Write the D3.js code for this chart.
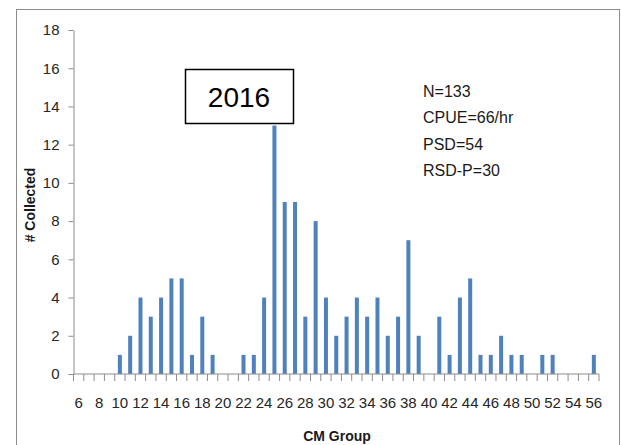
<!DOCTYPE html>
<html>
<head>
<meta charset="utf-8">
<script src="https://cdn.jsdelivr.net/npm/d3@7"></script>
<style>
  body { margin: 0; background: #fff; }
  svg text { font-family: "Liberation Sans Narrow", "Liberation Sans", Arial, sans-serif; }
</style>
</head>
<body>
<div id="chart"></div>
<script>
// CM group length frequency, 2016
const cmGroups = [6, 7, 8, 9, 10, 11, 12, 13, 14, 15, 16, 17, 18, 19, 20, 21, 22, 23, 24, 25, 26,
  27, 28, 29, 30, 31, 32, 33, 34, 35, 36, 37, 38, 39, 40, 41, 42, 43, 44, 45, 46, 47, 48, 49, 50,
  51, 52, 53, 54, 55, 56];
const collected = [0, 0, 0, 0, 1, 2, 4, 3, 4, 5, 5, 1, 3, 1, 0, 0, 1, 1, 4, 13, 9,
  9, 3, 8, 4, 2, 3, 4, 3, 4, 2, 3, 7, 2, 0, 3, 1, 4, 5, 1, 1, 2, 1, 1, 0,
  1, 1, 0, 0, 0, 1];
const xLabels = [6, 8, 10, 12, 14, 16, 18, 20, 22, 24, 26, 28, 30, 32, 34, 36, 38, 40, 42, 44,
  46, 48, 50, 52, 54, 56];
const yTicks = [0, 2, 4, 6, 8, 10, 12, 14, 16, 18];
const statLines = ["N=133", "CPUE=66/hr", "PSD=54", "RSD-P=30"];
const yearLabel = "2016";

const width = 621, height = 445;
const margin = { top: 30, right: 22, bottom: 71, left: 73.5 };

const svg = d3.select("#chart").append("svg")
  .attr("width", width)
  .attr("height", height);

// outer frame
svg.append("rect")
  .attr("x", 16.5).attr("y", 9.5)
  .attr("width", 603).attr("height", 460)
  .attr("fill", "none")
  .attr("stroke", "#8c8c8c");

const x = d3.scaleBand()
  .domain(cmGroups)
  .range([margin.left, width - margin.right])
  .padding(0);

const y = d3.scaleLinear()
  .domain([0, 18])
  .range([height - margin.bottom, margin.top]);

// y axis
const yAxis = svg.append("g")
  .attr("transform", `translate(${margin.left},0)`)
  .call(d3.axisLeft(y).tickValues(yTicks).tickSize(5).tickSizeOuter(0).tickPadding(9));
yAxis.select(".domain").attr("stroke", "#8c8c8c");
yAxis.selectAll(".tick line").attr("stroke", "#8c8c8c");
yAxis.selectAll("text")
  .attr("font-size", "15px")
  .attr("fill", "#262626")
  .style("font-family", "'Liberation Sans Narrow', 'Liberation Sans', sans-serif");

// bars
const barW = 4;
svg.append("g")
  .selectAll("rect")
  .data(cmGroups.map((g, i) => ({ g, v: collected[i] })).filter(d => d.v > 0))
  .join("rect")
  .attr("x", d => x(d.g) + (x.bandwidth() - barW) / 2)
  .attr("y", d => y(d.v))
  .attr("width", barW)
  .attr("height", d => y(0) - y(d.v))
  .attr("fill", "#4f81bd");

// x axis: line, ticks between categories, labels every other group
const xg = svg.append("g");
xg.append("line")
  .attr("x1", margin.left).attr("x2", width - margin.right)
  .attr("y1", y(0)).attr("y2", y(0))
  .attr("stroke", "#8c8c8c");
const bounds = cmGroups.map(g => x(g)).concat([x(cmGroups[cmGroups.length - 1]) + x.bandwidth()]);
xg.selectAll("line.tk")
  .data(bounds)
  .join("line")
  .attr("class", "tk")
  .attr("x1", d => d).attr("x2", d => d)
  .attr("y1", y(0)).attr("y2", y(0) + 7)
  .attr("stroke", "#8c8c8c");
xg.selectAll("text")
  .data(xLabels)
  .join("text")
  .attr("x", d => x(d) + x.bandwidth() / 2)
  .attr("y", y(0) + 34)
  .attr("text-anchor", "middle")
  .attr("font-size", "15px")
  .attr("fill", "#262626")
  .text(d => d);

// axis titles
svg.append("text")
  .attr("x", 337).attr("y", 441)
  .attr("text-anchor", "middle")
  .attr("font-size", "14px")
  .attr("font-weight", "bold")
  .attr("fill", "#1a1a1a")
  .text("CM Group");

svg.append("text")
  .attr("transform", "translate(35,205) rotate(-90)")
  .attr("text-anchor", "middle")
  .attr("font-size", "14px")
  .attr("font-weight", "bold")
  .attr("fill", "#1a1a1a")
  .text("# Collected");

// year box
svg.append("rect")
  .attr("x", 185.5).attr("y", 69.5)
  .attr("width", 108).attr("height", 54)
  .attr("fill", "#fff")
  .attr("stroke", "#000")
  .attr("stroke-width", 1.5);
svg.append("text")
  .attr("x", 239).attr("y", 107)
  .attr("text-anchor", "middle")
  .attr("font-size", "28px")
  .style("font-family", "'Liberation Sans', Arial, sans-serif")
  .attr("fill", "#000")
  .text(yearLabel);

// stats
svg.append("g")
  .selectAll("text")
  .data(statLines)
  .join("text")
  .attr("x", 423)
  .attr("y", (d, i) => 97 + i * 26.3)
  .attr("font-size", "16px")
  .attr("fill", "#1a1a1a")
  .text(d => d);
</script>
</body>
</html>
